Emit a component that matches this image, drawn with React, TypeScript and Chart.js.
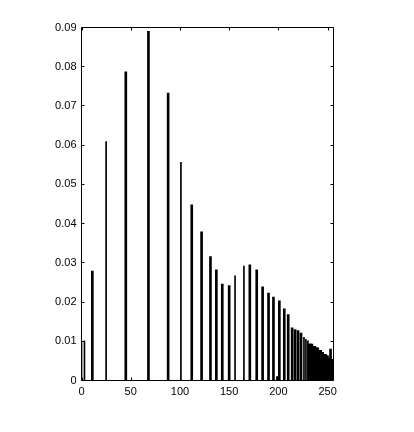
import React, { useEffect, useRef } from "react";
import { Chart, registerables } from "chart.js";

Chart.register(...registerables);

// Histogram bins (grey level) and normalised counts.
const THICK_BINS = [
  11, 45, 68, 88, 112, 122, 131, 137, 143, 150, 171, 178, 184, 190, 195, 199, 201,
  206, 210, 214, 217, 220, 223,
  231, 232, 233, 234, 235, 236, 237, 238, 239, 240, 241, 242, 243, 244, 245, 246,
  247, 248, 249, 250, 251, 252, 253, 254, 255,
];
const THICK_VALUES = [
  0.0279, 0.0787, 0.089, 0.0733, 0.0448, 0.0379, 0.0316, 0.0282, 0.0246, 0.0242,
  0.0295, 0.0282, 0.0239, 0.0223, 0.0213, 0.001, 0.0203,
  0.0183, 0.0168, 0.0134, 0.013, 0.0127, 0.0121,
  0.0093, 0.0093, 0.0093, 0.0093, 0.0087, 0.0087, 0.0087, 0.0083, 0.0083, 0.0083,
  0.0077, 0.0077, 0.0077, 0.0072, 0.0072, 0.0067, 0.0067, 0.0067, 0.0063, 0.0063,
  0.0056, 0.0056, 0.008, 0.0054, 0.0054,
];
const THIN_BINS = [0, 3, 25, 101, 156, 165, 226, 228, 230];
const THIN_VALUES = [0.0101, 0.0101, 0.0609, 0.0556, 0.0267, 0.0292, 0.011, 0.0105, 0.0101];

const X_TICKS = [0, 50, 100, 150, 200, 250];
const Y_TICKS = [0, 0.01, 0.02, 0.03, 0.04, 0.05, 0.06, 0.07, 0.08, 0.09];
const X_MIN = 0;
const X_MAX = 256;
const Y_MIN = 0;
const Y_MAX = 0.09;

const boxPlugin = {
  id: "matlabBox",
  afterDatasetsDraw(chart: any) {
    const { ctx, chartArea } = chart;
    const { left, right, top, bottom } = chartArea;
    const xs = chart.scales.x;
    const ys = chart.scales.y;
    const t = 3;
    ctx.save();
    ctx.strokeStyle = "#000";
    ctx.lineWidth = 1;
    ctx.beginPath();
    ctx.rect(left, top, right - left, bottom - top);
    X_TICKS.forEach((v) => {
      const px = Math.round(xs.getPixelForValue(v)) + 0.5;
      ctx.moveTo(px, bottom);
      ctx.lineTo(px, bottom - t);
      ctx.moveTo(px, top);
      ctx.lineTo(px, top + t);
    });
    Y_TICKS.forEach((v) => {
      const py = Math.round(ys.getPixelForValue(v) - 0.5) + 0.5;
      ctx.moveTo(left, py);
      ctx.lineTo(left + t, py);
      ctx.moveTo(right, py);
      ctx.lineTo(right - t, py);
    });
    ctx.stroke();
    ctx.restore();
  },
};

export default function App() {
  const ref = useRef<HTMLCanvasElement | null>(null);

  useEffect(() => {
    if (!ref.current) return;
    Chart.defaults.font.family = "'Liberation Sans', Arial, sans-serif";
    Chart.defaults.font.size = 11;
    Chart.defaults.color = "#000";

    const chart = new Chart(ref.current, {
      type: "bar",
      data: {
        datasets: [
          {
            data: THICK_BINS.map((b, i) => ({ x: b, y: THICK_VALUES[i] })),
            backgroundColor: "#000",
            borderWidth: 0,
            barThickness: 2,
            grouped: false,
          } as any,
          {
            data: THIN_BINS.map((b, i) => ({ x: b, y: THIN_VALUES[i] })),
            backgroundColor: "#000",
            borderWidth: 0,
            barThickness: 1,
            grouped: false,
          } as any,
        ],
      },
      options: {
        responsive: false,
        animation: false,
        devicePixelRatio: 1,
        layout: { padding: { top: 27.5, right: 80.5, left: 0, bottom: 0 } },
        plugins: { legend: { display: false }, tooltip: { enabled: false } },
        scales: {
          x: {
            type: "linear",
            min: X_MIN,
            max: X_MAX,
            offset: false,
            grid: { display: false, drawTicks: false, offset: false },
            border: { display: false },
            ticks: { padding: 5, maxRotation: 0, autoSkip: false },
            afterBuildTicks: (s: any) => {
              s.ticks = X_TICKS.map((v) => ({ value: v }));
            },
            afterFit: (s: any) => {
              s.height = 51.5;
            },
          },
          y: {
            type: "linear",
            min: Y_MIN,
            max: Y_MAX,
            grid: { display: false, drawTicks: false },
            border: { display: false },
            ticks: {
              padding: 5,
              autoSkip: false,
              callback: (v: any) => (Number(v) === 0 ? "0" : Number(v).toFixed(2)),
            },
            afterBuildTicks: (s: any) => {
              s.ticks = Y_TICKS.map((v) => ({ value: v }));
            },
            afterFit: (s: any) => {
              s.width = 81.5;
            },
          },
        },
      } as any,
      plugins: [boxPlugin],
    });
    return () => chart.destroy();
  }, []);

  return (
    <div
      style={{
        position: "absolute",
        left: 0,
        top: 0,
        width: 414,
        height: 432,
        background: "#fff",
      }}
    >
      <canvas ref={ref} width={414} height={432} style={{ display: "block" }} />
    </div>
  );
}
